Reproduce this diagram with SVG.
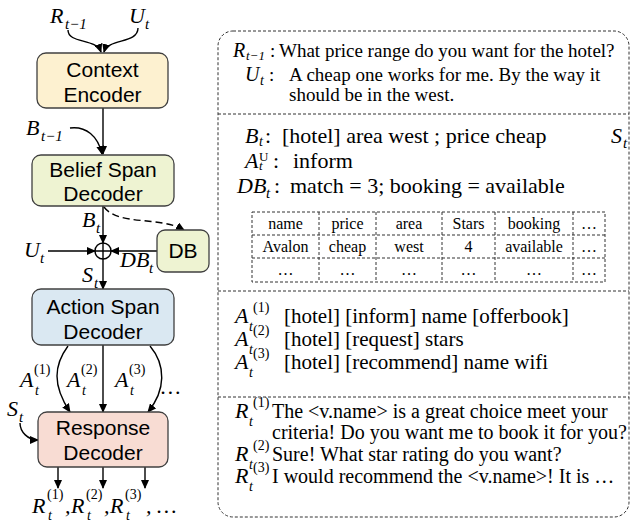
<svg xmlns="http://www.w3.org/2000/svg" width="632" height="523" viewBox="0 0 632 523">
<defs>
<marker id="ah" markerUnits="userSpaceOnUse" markerWidth="9" markerHeight="8" refX="8" refY="4" orient="auto">
<path d="M0,0 L9,4 L0,8 z" fill="#000"/>
</marker>
<style>
.box{stroke:#404040;stroke-width:1.3}
.lbl{font-family:"Liberation Sans",Arial,sans-serif;font-size:21px;fill:#000;text-anchor:middle}
.m{font-family:"Liberation Serif","DejaVu Serif",serif;font-style:italic;font-size:22px;fill:#000}
.m20{font-family:"Liberation Serif","DejaVu Serif",serif;font-style:italic;font-size:20px;fill:#000}
.ms{font-style:italic;font-size:15px}
.mss{font-style:italic;font-size:14px}
.m13{font-style:italic;font-size:13px}
.mr{font-style:normal;font-size:14px}
.mr13{font-style:normal;font-size:13px}
.t{font-family:"Liberation Serif","Times New Roman",serif;font-size:19px;fill:#000}
.t20{font-family:"Liberation Serif","Times New Roman",serif;font-size:20px;fill:#000}
.t2{font-family:"Liberation Serif","Times New Roman",serif;font-size:21px;fill:#000}
.t3{font-family:"Liberation Serif","Times New Roman",serif;font-size:22px;fill:#000}
.tb{font-family:"Liberation Serif","Times New Roman",serif;font-size:16px;fill:#000;text-anchor:middle}
.ar{fill:none;stroke:#000;stroke-width:1.4}
.dl{fill:none;stroke:#333;stroke-width:1;stroke-dasharray:3,2}
</style>
</defs>

<g id="connectors">
<path class="ar" d="M68,30 C68,44 96,38 101,52" marker-end="url(#ah)"/>
<path class="ar" d="M138,28 C138,44 108,38 104,52" marker-end="url(#ah)"/>
<path class="ar" d="M103,108 L103,154" marker-end="url(#ah)"/>
<path class="ar" d="M70,128 C86,126 98,136 102,154" marker-end="url(#ah)"/>
<path class="ar" d="M103,206 L103,243" marker-end="url(#ah)"/>
<path class="ar" d="M104,207 C118,226 160,216 184,230" stroke-dasharray="7,4" marker-end="url(#ah)"/>
<path class="ar" d="M48,251 L95,251" marker-end="url(#ah)"/>
<path class="ar" d="M157,251 L111,251" marker-end="url(#ah)"/>
<path class="ar" d="M103,259 L103,289" marker-end="url(#ah)"/>
<path class="ar" d="M68,346 C54,365 52,385 70,412" marker-end="url(#ah)"/>
<path class="ar" d="M103,345 L103,412" marker-end="url(#ah)"/>
<path class="ar" d="M150,346 C166,365 166,390 148,412" marker-end="url(#ah)"/>
<path class="ar" d="M20,423 C20,432 28,440 38,440" marker-end="url(#ah)"/>
<path class="ar" d="M58,467 L58,488" marker-end="url(#ah)"/>
<path class="ar" d="M103,467 L103,488" marker-end="url(#ah)"/>
<path class="ar" d="M145,467 L145,488" marker-end="url(#ah)"/>
</g>

<g id="oplus">
<circle cx="103" cy="251" r="8" fill="#fff" stroke="#000" stroke-width="1.4"/>
<path d="M95,251 H111 M103,243 V259" stroke="#000" stroke-width="1.4"/>
</g>

<g id="context-encoder">
<rect class="box" x="37" y="53" width="131" height="55" rx="9" fill="#fdf1d0"/>
<text class="lbl" x="102.5" y="77">Context</text>
<text class="lbl" x="102.5" y="102">Encoder</text>
</g>
<g id="belief-span-decoder">
<rect class="box" x="32" y="155" width="142" height="51" rx="9" fill="#eef3d2"/>
<text class="lbl" x="103" y="177">Belief Span</text>
<text class="lbl" x="103" y="201">Decoder</text>
</g>
<g id="db">
<rect class="box" x="157" y="230" width="52" height="42" rx="8" fill="#eef3d2"/>
<text class="lbl" x="183" y="258">DB</text>
</g>
<g id="action-span-decoder">
<rect class="box" x="32" y="289" width="142" height="56" rx="9" fill="#dae8f2"/>
<text class="lbl" x="103" y="314">Action Span</text>
<text class="lbl" x="103" y="339">Decoder</text>
</g>
<g id="response-decoder">
<rect class="box" x="38" y="412" width="130" height="55" rx="9" fill="#f8dcd3"/>
<text class="lbl" x="103" y="435">Response</text>
<text class="lbl" x="103" y="460">Decoder</text>
</g>

<g id="left-labels">
<text class="m" x="50" y="23">R<tspan class="ms" x="65" dy="6">t−1</tspan></text>
<text class="m" x="129" y="23">U<tspan class="ms" x="145" dy="6">t</tspan></text>
<text class="m" x="26" y="135">B<tspan class="ms" x="41" dy="6">t−1</tspan></text>
<text class="m" x="82" y="227">B<tspan class="ms" x="96" dy="6">t</tspan></text>
<text class="m" x="24" y="257">U<tspan class="ms" x="40" dy="6">t</tspan></text>
<text class="m" x="120" y="267">DB<tspan class="ms" x="149" dy="6">t</tspan></text>
<text class="m" x="82" y="282">S<tspan class="ms" x="94" dy="6">t</tspan></text>
<text class="m" x="20" y="387">A<tspan class="mr" x="34" dy="-13">(1)</tspan><tspan class="mss" x="35" dy="21">t</tspan></text>
<text class="m" x="67" y="387">A<tspan class="mr" x="81" dy="-13">(2)</tspan><tspan class="mss" x="82" dy="21">t</tspan></text>
<text class="m" x="115" y="387">A<tspan class="mr" x="129" dy="-13">(3)</tspan><tspan class="mss" x="130" dy="21">t</tspan></text>
<text class="m" x="161" y="394">…</text>
<text class="m" x="7" y="416">S<tspan class="ms" x="19" dy="6">t</tspan></text>
<text class="m" x="32" y="513">R<tspan class="mr" x="47" dy="-14">(1)</tspan><tspan class="mss" x="48" dy="21">t</tspan><tspan x="65" dy="-7">,</tspan><tspan x="71">R</tspan><tspan class="mr" x="86" dy="-14">(2)</tspan><tspan class="mss" x="87" dy="21">t</tspan><tspan x="104" dy="-7">,</tspan><tspan x="110">R</tspan><tspan class="mr" x="125" dy="-14">(3)</tspan><tspan class="mss" x="126" dy="21">t</tspan><tspan x="146" dy="-7">, …</tspan></text>
</g>

<g id="example-panel">
<rect class="dl" x="218" y="31" width="411" height="486" rx="15"/>
<line class="dl" x1="218" y1="114" x2="629" y2="114"/>
<line class="dl" x1="218" y1="291" x2="629" y2="291"/>
<line class="dl" x1="218" y1="397" x2="629" y2="397"/>

<text class="m20" x="233" y="57">R<tspan class="m13" x="246" dy="3">t−1</tspan></text><text class="t" x="270" y="57">:</text><text class="t" x="279" y="57">What price range do you want for the hotel?</text>
<text class="m20" x="245" y="81">U<tspan class="mss" x="260" dy="4">t</tspan></text><text class="t" x="269" y="81">:</text><text class="t" x="289" y="81">A cheap one works for me. By the way it</text>
<text class="t" x="289" y="101">should be in the west.</text>

<text class="m" x="245" y="143">B<tspan class="mss" x="259" dy="3">t</tspan></text><text class="t3" x="265" y="143">:</text><text class="t3" x="282" y="143">[hotel] area west ; price cheap</text>
<text class="m" x="611" y="143">S<tspan class="ms" x="623" dy="5">t</tspan></text>
<text class="m" x="245" y="168">A<tspan class="mr13" x="259" dy="-7">U</tspan><tspan class="m13" x="259" dy="9">t</tspan></text><text class="t3" x="273" y="168">:</text><text class="t3" x="293" y="168">inform</text>
<text class="m" x="237" y="193">DB<tspan class="ms" x="266" dy="5">t</tspan></text><text class="t3" x="274" y="193">:</text><text class="t3" x="290" y="193">match = 3; booking = available</text>

<g id="db-table">
<rect class="dl" x="252" y="212" width="353" height="70"/>
<path class="dl" d="M252,235 H605 M252,258 H605 M319,212 V282 M376,212 V282 M442,212 V282 M495,212 V282 M573,212 V282"/>
<text class="tb" x="285.5" y="229">name</text><text class="tb" x="347.5" y="229">price</text><text class="tb" x="409" y="229">area</text><text class="tb" x="468.5" y="229">Stars</text><text class="tb" x="534" y="229">booking</text><text class="tb" x="589" y="229">…</text>
<text class="tb" x="285.5" y="252">Avalon</text><text class="tb" x="347.5" y="252">cheap</text><text class="tb" x="409" y="252">west</text><text class="tb" x="468.5" y="252">4</text><text class="tb" x="534" y="252">available</text><text class="tb" x="589" y="252">…</text>
<text class="tb" x="285.5" y="275">…</text><text class="tb" x="347.5" y="275">…</text><text class="tb" x="409" y="275">…</text><text class="tb" x="468.5" y="275">…</text><text class="tb" x="534" y="275">…</text><text class="tb" x="589" y="275">…</text>
</g>

<text class="m" x="235" y="323">A<tspan class="mr" x="253" dy="-11">(1)</tspan><tspan class="mss" x="249" dy="19">t</tspan></text><text class="t2" x="284" y="323">[hotel] [inform] name [offerbook]</text>
<text class="m" x="235" y="346">A<tspan class="mr" x="253" dy="-11">(2)</tspan><tspan class="mss" x="249" dy="19">t</tspan></text><text class="t2" x="284" y="346">[hotel] [request] stars</text>
<text class="m" x="235" y="369">A<tspan class="mr" x="253" dy="-11">(3)</tspan><tspan class="mss" x="249" dy="19">t</tspan></text><text class="t2" x="284" y="369">[hotel] [recommend] name wifi</text>

<text class="m" x="235" y="418">R<tspan class="mr" x="253" dy="-11">(1)</tspan><tspan class="mss" x="249" dy="19">t</tspan></text><text class="t20" x="272" y="418">The &lt;v.name&gt; is a great choice meet your</text>
<text class="t20" x="272" y="439">criteria! Do you want me to book it for you?</text>
<text class="m" x="235" y="461">R<tspan class="mr" x="253" dy="-11">(2)</tspan><tspan class="mss" x="249" dy="19">t</tspan></text><text class="t20" x="272" y="461">Sure! What star rating do you want?</text>
<text class="m" x="235" y="483">R<tspan class="mr" x="253" dy="-11">(3)</tspan><tspan class="mss" x="249" dy="19">t</tspan></text><text class="t20" x="272" y="483">I would recommend the &lt;v.name&gt;! It is …</text>
</g>
</svg>
